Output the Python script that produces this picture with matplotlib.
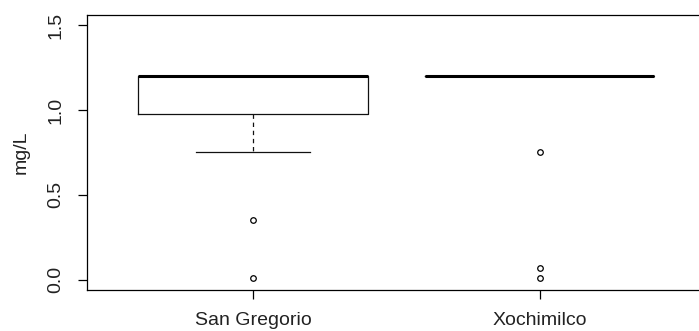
import matplotlib
matplotlib.use("Agg")
import matplotlib.pyplot as plt

categories = ["San Gregorio", "Xochimilco"]
q1 = [0.975, 1.2]
median = [1.2, 1.2]
q3 = [1.2, 1.2]
whisker_low = [0.75, 1.2]
whisker_high = [1.2, 1.2]
outliers = [[0.35, 0.01], [0.75, 0.07, 0.01]]
y_ticks = [0.0, 0.5, 1.0, 1.5]
y_label = "mg/L"

plt.rcParams['font.family'] = ['Liberation Sans', 'DejaVu Sans']

fig = plt.figure(figsize=(6.99, 3.31), dpi=100)
ax = fig.add_axes([0.124, 0.1239, 0.886, 0.8308])

stats = []
for i, name in enumerate(categories):
    stats.append(dict(label=name, q1=q1[i], med=median[i], q3=q3[i],
                      whislo=whisker_low[i], whishi=whisker_high[i],
                      fliers=outliers[i]))

ax.bxp(stats, positions=[1, 2], widths=0.8, capwidths=0.4,
       boxprops=dict(color='#111111', linewidth=0.9),
       medianprops=dict(color='black', linewidth=2.2, solid_capstyle='butt'),
       whiskerprops=dict(color='#111111', linewidth=0.9, linestyle=(0, (3.5, 3))),
       capprops=dict(color='#111111', linewidth=0.9),
       flierprops=dict(marker='o', markerfacecolor='none', markeredgecolor='black',
                       markersize=4, markeredgewidth=0.9))

ax.set_xlim(0.42, 2.58)
ax.set_ylim(-0.06, 1.56)
ax.set_yticks(y_ticks)
ax.set_yticklabels(["0.0", "0.5", "1.0", "1.5"], rotation=90, va='center')
ax.set_xticks([1, 2])
ax.set_xticklabels(categories)
ax.tick_params(axis='both', length=6.5, width=0.9, labelsize=14, color='black',
               labelcolor='#222222')
ax.tick_params(axis='y', pad=9.5)
ax.tick_params(axis='x', pad=9)
ax.set_ylabel(y_label, fontsize=14, labelpad=13, color='#222222')
for s in ax.spines.values():
    s.set_linewidth(0.9)

fig.savefig("out.png", dpi=100)
